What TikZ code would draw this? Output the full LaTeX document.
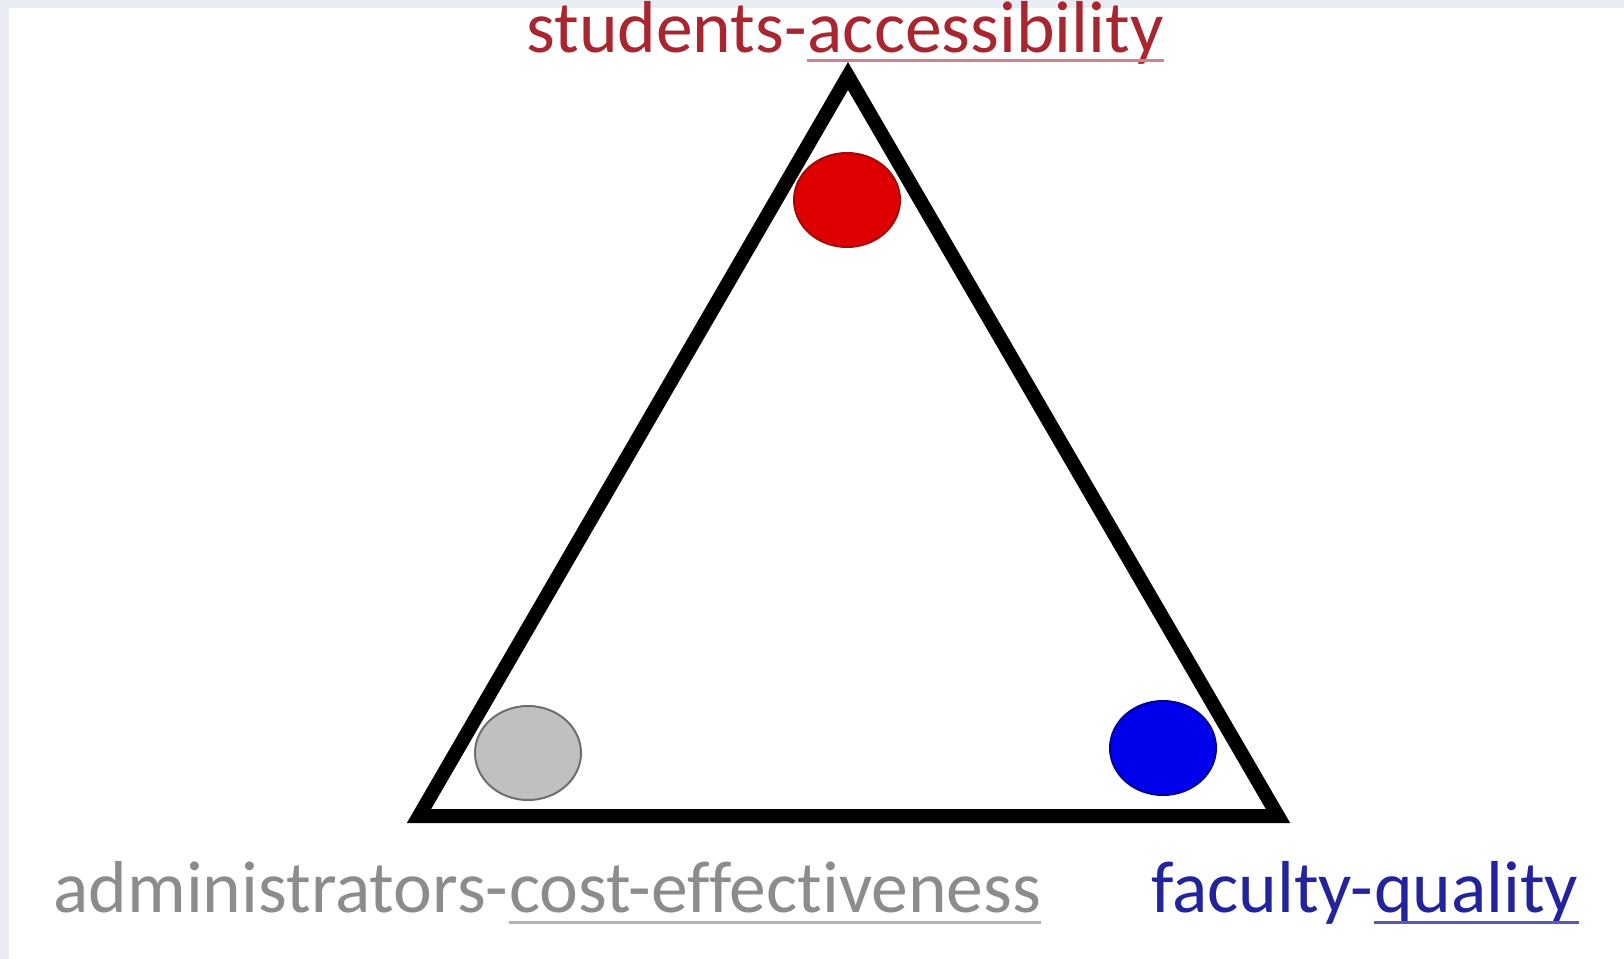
\documentclass[tikz,border=0pt]{standalone}
\usepackage{fontspec}
\setmainfont{Carlito}[Ligatures=NoCommon]
\usetikzlibrary{shapes.geometric}
\definecolor{studred}{HTML}{A8262F}
\definecolor{studline}{HTML}{C9868C}
\definecolor{admgrey}{HTML}{8C8C8C}
\definecolor{admline}{HTML}{B4B4B4}
\definecolor{facblue}{HTML}{23239C}
\definecolor{facline}{HTML}{5A5AB8}
\definecolor{paper}{HTML}{E9EDF3}
\tikzset{
  tag/.style={inner sep=0pt, anchor=base west, font=\fontsize{36.8}{40}\selectfont},
  dot/.style={ellipse, draw, line width=1pt, minimum width=53pt, minimum height=47pt, inner sep=0pt},
  uline/.style={line width=1.5pt}
}
\begin{document}
\begin{tikzpicture}[x=0.5pt, y=-0.5pt]
\useasboundingbox (0,0) rectangle (1624,959);
\fill[white] (0,0) rectangle (1624,959);
\fill[paper] (0,0) rectangle (1624,8);
\fill[paper] (0,0) rectangle (9,959);
% triangle
\coordinate (top) at (848,76);
\coordinate (bl) at (419,816);
\coordinate (br) at (1278,816);
\draw[line width=7pt, line join=miter] (top) -- (br) -- (bl) -- cycle;
% dots
\node[dot, fill={rgb,255:red,222;green,0;blue,0}, draw={rgb,255:red,160;green,10;blue,10}] (sdot) at (847,200) {};
\node[dot, fill={rgb,255:red,192;green,192;blue,192}, draw={rgb,255:red,110;green,110;blue,110}] (adot) at (528,753) {};
\node[dot, fill={rgb,255:red,0;green,0;blue,235}, draw={rgb,255:red,0;green,0;blue,150}] (fdot) at (1163,748) {};
% labels
\node[tag, text=studred] (stu) at (526,52) {students-};
\node[tag, text=studred] (acc) at (stu.base east) {accessibility};
\draw[uline, studline] ([yshift=-4pt]acc.base west) -- ([yshift=-4pt]acc.base east);
\node[tag, text=admgrey] (adm) at (53,912) {administrators-};
\node[tag, text=admgrey] (cost) at (adm.base east) {cost-effectiveness};
\draw[uline, admline] ([yshift=-5pt]cost.base west) -- ([yshift=-5pt]cost.base east);
\node[tag, text=facblue] (fac) at (1151,912) {faculty-};
\node[tag, text=facblue] (qual) at (fac.base east) {quality};
\draw[uline, facline] ([yshift=-5pt]qual.base west) -- ([yshift=-5pt]qual.base east);
\end{tikzpicture}
\end{document}
